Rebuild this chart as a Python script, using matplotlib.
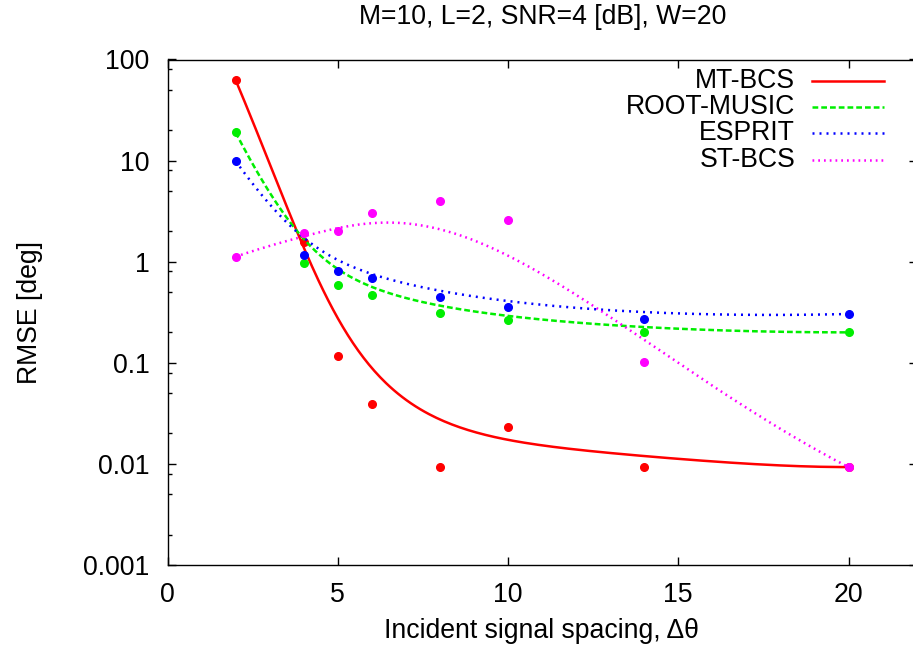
import numpy as np
import matplotlib
matplotlib.use("Agg")
import matplotlib.pyplot as plt
from matplotlib.lines import Line2D
from matplotlib.ticker import FixedLocator, NullFormatter
from math import comb

plt.rcParams['font.family'] = ['Liberation Sans', 'DejaVu Sans']

spacing = [2, 4, 5, 6, 8, 10, 14, 20]
mt_bcs = [62.7, 1.57, 0.117, 0.039, 0.0093, 0.0233, 0.0093, 0.0093]
root_music = [19.0, 0.96, 0.59, 0.47, 0.31, 0.265, 0.20, 0.20]
esprit = [9.9, 1.16, 0.815, 0.695, 0.448, 0.359, 0.271, 0.304]
st_bcs = [1.12, 1.91, 2.01, 3.03, 4.01, 2.58, 0.1026, 0.0093]

series_names = ["MT-BCS", "ROOT-MUSIC", "ESPRIT", "ST-BCS"]
series_values = [mt_bcs, root_music, esprit, st_bcs]
colors = ["#ff0000", "#00ee00", "#0000ff", "#ff00ff"]
lw = 1.8
styles = [dict(linestyle="-"),
          dict(linestyle=(0, (2.3, 1.2))),
          dict(linestyle=(0, (0.8, 2.0))),
          dict(linestyle=(0, (0.7, 1.6)))]

xticks = [0, 5, 10, 15, 20]
yticks = [0.001, 0.01, 0.1, 1, 10, 100]
ytick_labels = ["0.001", "0.01", "0.1", "1", "10", "100"]

FS = 19.2


def bezier(x, y, n=200):
    x = np.asarray(x, float)
    ly = np.log10(np.asarray(y, float))
    m = len(x) - 1
    t = np.linspace(0, 1, n)
    B = np.array([comb(m, i) * t**i * (1 - t)**(m - i) for i in range(m + 1)])
    return B.T @ x, 10 ** (B.T @ ly)


fig = plt.figure(figsize=(9.13, 6.57), dpi=100)
ax = fig.add_axes([167.5 / 913, 1 - 565 / 657, (916.6 - 167.5) / 913, (565 - 59.5) / 657])
ax.set_yscale("log")
ax.set_xlim(0, 22)
ax.set_ylim(0.001, 100)

for vals, c, st in zip(series_values, colors, styles):
    bx, by = bezier(spacing, vals)
    ax.plot(bx, by, color=c, lw=lw, **st)
    ax.plot(spacing, vals, 'o', color=c, ms=5.5, mec=c, ls='none')

ax.set_xticks(xticks)
ax.set_xticklabels([str(v) for v in xticks])
ax.set_yticks(yticks)
ax.set_yticklabels(ytick_labels)
minors = [m * 10.0**k for k in range(-3, 2) for m in (2, 5, 8)]
ax.yaxis.set_minor_locator(FixedLocator(minors))
ax.yaxis.set_minor_formatter(NullFormatter())
ax.xaxis.set_minor_locator(FixedLocator([]))

ax.tick_params(which='both', direction='in', top=True, right=True, labelsize=FS, width=1.0, color='black')
ax.tick_params(which='major', length=6)
ax.tick_params(which='minor', length=3)
ax.tick_params(axis='x', pad=12)
ax.tick_params(axis='y', pad=13)
for s in ax.spines.values():
    s.set_linewidth(1.0)

fig.text(543 / 913, 1 - 17 / 657, "M=10, L=2, SNR=4 [dB], W=20", ha='center', va='center', fontsize=FS)
fig.text(541 / 913, 1 - 631 / 657, "Incident signal spacing, \u0394\u03b8", ha='center', va='center', fontsize=FS)
fig.text(30 / 913, 1 - 312 / 657, "RMSE [deg]", ha='center', va='center', rotation=90, fontsize=FS)

# legend drawn manually (gnuplot style: right-aligned text, sample to the right)
row_y = [0.9575, 0.906, 0.8546, 0.801]
for name, c, st, yy in zip(series_names, colors, styles, row_y):
    ax.text(0.8377, yy, name, transform=ax.transAxes, ha='right', va='center', fontsize=FS)
    ax.add_line(Line2D([0.860, 0.9565], [yy, yy], transform=ax.transAxes, color=c, lw=lw, **st))

fig.savefig("out.png", dpi=100)
